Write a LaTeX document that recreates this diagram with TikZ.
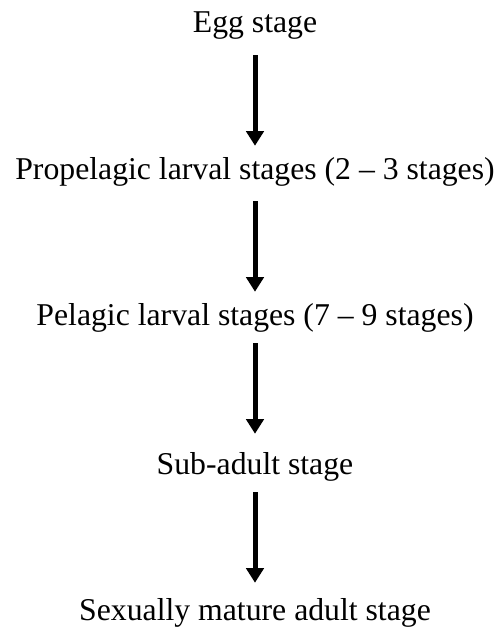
\documentclass[tikz,border=0pt]{standalone}
\usepackage{fontspec}
\setmainfont{Liberation Serif}
\usetikzlibrary{arrows.meta}
\begin{document}
\begin{tikzpicture}[x=0.75pt,y=-0.75pt,
    stage/.style={anchor=base,inner sep=0pt,text height=16.5pt,text depth=5.25pt,
      font=\fontsize{23.8}{28}\selectfont},
    lifearrow/.style={line width=3.75pt,-{Triangle[length=11pt,width=13pt]}}]
  \useasboundingbox (0,0) rectangle (502,628);

  \node[stage] (egg) at (255,32) {Egg stage};
  \node[stage] (propelagic) at (255,179) {Propelagic larval stages (2 -- 3 stages)};
  \node[stage] (pelagic) at (255,325) {Pelagic larval stages (7 -- 9 stages)};
  \node[stage] (subadult) at (255,474) {Sub-adult stage};
  \node[stage] (adult) at (255,620) {Sexually mature adult stage};

  \draw[lifearrow,shorten <=12pt,shorten >=8.25pt] (egg) -- (propelagic);
  \draw[lifearrow,shorten <=11.25pt,shorten >=8.25pt] (propelagic) -- (pelagic);
  \draw[lifearrow,shorten <=8.25pt,shorten >=13.5pt] (pelagic) -- (subadult);
  \draw[lifearrow,shorten <=8.25pt,shorten >=11.25pt] (subadult) -- (adult);

\end{tikzpicture}
\end{document}
